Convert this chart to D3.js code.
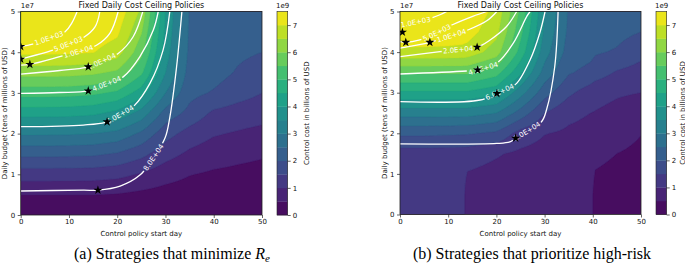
<!DOCTYPE html>
<html><head><meta charset="utf-8">
<script src="https://cdn.jsdelivr.net/npm/d3@7"></script>
<style>
body{margin:0;background:#fff;}
svg{display:block;}
</style></head><body>
<svg id="c" width="685" height="266" font-family="DejaVu Sans, sans-serif"></svg>
<script>
// ---------------- data ----------------
const budgets = [0,0.5,1,1.5,2,2.5,3,3.5,4,4.5,5];           // tens of millions of USD
const startDaysA = [0,5,10,15,20,25,30,35,40,45,50];
// control cost (billions of USD); one row per budget, one column per start day
const costA = [
 [0,0,0,0,0,0,0,0,0,0,0],
 [0.51,0.51,0.51,0.51,0.47,0.38,0.30,0.25,0.22,0.19,0.17],
 [1.25,1.25,1.24,1.22,1.15,0.95,0.70,0.52,0.43,0.39,0.35],
 [2.12,2.12,2.11,2.08,1.95,1.65,1.20,0.90,0.72,0.62,0.55],
 [3.06,3.06,3.05,3.00,2.85,2.40,1.70,1.30,1.05,0.95,0.85],
 [4.20,4.20,4.18,4.10,3.85,3.30,2.30,1.85,1.40,1.28,1.20],
 [5.20,5.20,5.18,5.10,4.90,4.25,3.00,2.15,1.95,1.70,1.50],
 [6.20,6.20,6.18,6.10,5.90,5.10,3.50,2.30,2.20,1.95,1.75],
 [7.10,7.10,7.08,7.02,6.75,5.65,3.75,2.38,2.30,2.10,2.00],
 [7.35,7.35,7.33,7.28,7.10,6.05,3.90,2.42,2.35,2.25,2.15],
 [7.50,7.50,7.48,7.45,7.35,6.40,4.00,2.45,2.40,2.35,2.30]
];
const startDaysB = [0,5,10,13,14,20,25,30,35,39.5,40.5,45,50];
const costB = [
 [1.20,1.20,1.20,1.20,0.70,0.70,0.70,0.70,0.70,0.70,0.30,0.30,0.30],
 [1.20,1.20,1.20,1.20,0.70,0.70,0.70,0.70,0.70,0.70,0.30,0.30,0.30],
 [1.22,1.22,1.22,1.22,0.97,0.85,0.78,0.74,0.73,0.72,0.47,0.38,0.35],
 [1.26,1.26,1.25,1.25,1.22,1.05,0.90,0.80,0.78,0.75,0.62,0.50,0.42],
 [2.10,2.10,2.08,2.05,2.05,1.90,1.30,1.02,0.92,0.85,0.80,0.65,0.51],
 [3.20,3.20,3.20,3.20,3.20,3.00,2.30,1.50,1.12,1.00,0.98,0.88,0.75],
 [4.40,4.40,4.40,4.40,4.40,4.15,3.20,2.20,1.60,1.25,1.15,1.05,1.00],
 [5.60,5.60,5.60,5.60,5.60,5.20,4.10,2.80,2.05,1.85,1.75,1.45,1.30],
 [6.90,6.90,6.88,6.85,6.80,6.25,4.80,3.20,2.30,2.15,2.05,1.95,1.65],
 [7.30,7.30,7.28,7.25,7.22,6.65,5.15,3.40,2.40,2.32,2.30,2.15,2.00],
 [7.50,7.50,7.48,7.45,7.40,6.85,5.40,3.50,2.45,2.42,2.40,2.30,2.20]
];
const costLevels = [0,0.5,1,1.5,2,2.5,3,3.5,4,4.5,5,5.5,6,6.5,7,7.5];
const colorbarTicks = [0,1,2,3,4,5,6,7];
const xTicks = [0,10,20,30,40,50];
const yTicks = [0,1,2,3,4,5];
const deathLevels = ["1.0E+03","5.0E+03","1.0E+04","2.0E+04","4.0E+04","6.0E+04","8.0E+04"];
// death contour lines: [start day, budget] points
const deathLinesA = [
 [[0,4.14],[2.5,4.2],[5.5,4.33],[9.2,4.5],[10.6,4.72],[11.7,5.0]],
 [[0,3.83],[6.7,4.05],[9.8,4.2],[12.9,4.35],[15.4,4.62],[16.4,5.0]],
 [[0,3.68],[1.9,3.7],[8.1,3.89],[12,4.02],[15.7,4.17],[18.5,4.47],[20.2,5.0]],
 [[0,3.46],[8.1,3.55],[14,3.64],[17.2,3.8],[20.2,3.97],[23.3,4.38],[25.3,5.0]],
 [[0,2.99],[8,3.01],[14,3.05],[17.7,3.22],[21.3,3.4],[24.7,3.89],[27.5,4.55],[28.5,5.0]],
 [[0,2.17],[13,2.21],[17.9,2.29],[20.6,2.47],[23.3,2.66],[26.8,3.24],[29.5,4.05],[30.9,5.0]],
 [[0,0.59],[13,0.61],[16,0.61],[20.6,0.71],[24.7,0.98],[27.4,1.4],[29.9,1.89],[30.9,2.4],[32.3,3.64],[33.4,5.0]]
];
const deathLabelAtA = [[5.9,4.33],[9.9,4.18],[11.9,4.04],[16.8,3.76],[17.9,3.2],[20.6,2.47],[27.5,1.42]];
const deathLinesB = [
 [[0,4.67],[5.2,4.79],[8.3,4.92],[9.7,5.0]],
 [[0,4.26],[1.2,4.24],[4.1,4.3],[7.5,4.47],[11,4.68],[15.1,4.88],[18,5.0]],
 [[0,4.1],[6.2,4.24],[10,4.38],[14.2,4.55],[18,4.77],[20.1,5.0]],
 [[0,3.89],[8.3,4.01],[12,4.06],[16,4.12],[18.7,4.3],[22.1,4.63],[24.2,5.0]],
 [[0,3.46],[14.5,3.54],[16.1,3.56],[18.1,3.63],[20.1,3.73],[23.5,4.22],[26.3,4.88],[27,5.0]],
 [[0,2.78],[16.6,2.82],[20.1,2.99],[22.2,3.1],[24.2,3.23],[27,3.81],[29,4.47],[30.1,5.0]],
 [[0,1.74],[20.1,1.75],[22.8,1.79],[24,1.88],[26.7,2.08],[29.4,2.29],[30.4,2.58],[32.1,3.64],[32.8,5.0]]
];
const deathLabelAtB = [[3.3,4.73],[7.6,4.48],[10.7,4.39],[12.1,4.06],[17.2,3.6],[20.7,3.02],[26.3,2.06]];
const starsA = [[0,4.14],[0,3.83],[1.9,3.70],[14,3.64],[14,3.05],[17.9,2.29],[16,0.61]];
const starsB = [[0.5,4.49],[1.2,4.24],[6.2,4.24],[16,4.12],[16.1,3.56],[20.1,2.98],[24,1.88]];

// ---------------- layout ----------------
const panels = [
 {id:"a", x0:20.7, y0:11.5, w:241.3, h:203.5, cbx:277, cbLab:308.5, days:startDaysA, cost:costA,
  lines:deathLinesA, labels:deathLabelAtA, stars:starsA, capX:172},
 {id:"b", x0:400, y0:11.5, w:241, h:203, cbx:656, cbLab:684.5, days:startDaysB, cost:costB,
  lines:deathLinesB, labels:deathLabelAtB, stars:starsB, capX:532}
];
const svg = d3.select("#c");
const cbW = 10.7;
const bandColor = k => d3.interpolateViridis(((costLevels[k]+costLevels[k+1])/2)/costLevels[costLevels.length-1]);

function bilinear(xs, ys, z, xv, yv){
  let i = Math.min(Math.max(d3.bisectRight(xs, xv)-1,0), xs.length-2);
  let j = Math.min(Math.max(d3.bisectRight(ys, yv)-1,0), ys.length-2);
  const tx = Math.min(Math.max((xv-xs[i])/(xs[i+1]-xs[i]),0),1);
  const ty = Math.min(Math.max((yv-ys[j])/(ys[j+1]-ys[j]),0),1);
  const a = z[j][i]*(1-tx)+z[j][i+1]*tx;
  const b = z[j+1][i]*(1-tx)+z[j+1][i+1]*tx;
  return a*(1-ty)+b*ty;
}

panels.forEach(p => {
  const x = d3.scaleLinear().domain([0,50]).range([p.x0, p.x0+p.w]);
  const y = d3.scaleLinear().domain([0,5]).range([p.y0+p.h, p.y0]);
  const g = svg.append("g");
  const clipId = "clip"+p.id;
  svg.append("clipPath").attr("id", clipId).append("rect")
    .attr("x", p.x0).attr("y", p.y0).attr("width", p.w).attr("height", p.h);
  const plot = g.append("g").attr("clip-path", `url(#${clipId})`);

  // filled contours
  const nx = Math.round(p.w*2), ny = Math.round(p.h*2);
  const vals = new Float64Array(nx*ny);
  for (let j=0;j<ny;j++){
    const B = y.invert(p.y0 + (j+0.5)*p.h/ny);
    for (let i=0;i<nx;i++){
      const d = x.invert(p.x0 + (i+0.5)*p.w/nx);
      vals[j*nx+i] = bilinear(p.days, budgets, p.cost, d, B);
    }
  }
  const thr = costLevels.slice(1,-1);
  const cs = d3.contours().size([nx,ny]).thresholds(thr)(vals);
  const proj = d3.geoPath(d3.geoTransform({point(px,py){
    this.stream.point(p.x0 + px*p.w/nx, p.y0 + py*p.h/ny);
  }}));
  plot.append("rect").attr("x",p.x0).attr("y",p.y0).attr("width",p.w).attr("height",p.h)
    .attr("fill", bandColor(0));
  cs.forEach((c,k) => {
    plot.append("path").attr("d", proj(c)).attr("fill", bandColor(k+1))
      .attr("stroke", bandColor(k+1)).attr("stroke-width",0.3);
  });

  // death contour lines with inline labels
  const line = d3.line().x(d=>x(d[0])).y(d=>y(d[1])).curve(d3.curveCatmullRom.alpha(0.5));
  p.lines.forEach((pts, k) => {
    const path = plot.append("path").attr("d", line(pts)).attr("fill","none")
      .attr("stroke","#fff").attr("stroke-width",1.3);
    const node = path.node();
    const total = node.getTotalLength();
    const tx = x(p.labels[k][0]), ty = y(p.labels[k][1]);
    let best = 0, bd = Infinity;
    for (let s=0;s<=total;s+=0.5){
      const q = node.getPointAtLength(s);
      const dd = (q.x-tx)**2+(q.y-ty)**2;
      if (dd<bd){bd=dd;best=s;}
    }
    const q0 = node.getPointAtLength(Math.max(best-6,0));
    const q1 = node.getPointAtLength(Math.min(best+6,total));
    let ang = Math.atan2(q1.y-q0.y, q1.x-q0.x)*180/Math.PI;
    if (ang>90) ang-=180; if (ang<-90) ang+=180;
    const c = node.getPointAtLength(best);
    const t = plot.append("text").attr("transform",`translate(${c.x},${c.y}) rotate(${ang})`)
      .attr("text-anchor","middle").attr("dy","0.35em").attr("font-size",7).attr("fill","#fff")
      .text(deathLevels[k]);
    const tw = t.node().getComputedTextLength()+3;
    const a0 = Math.max(best-tw/2,0);
    path.attr("stroke-dasharray", `${a0} ${tw} ${total}`);
  });

  // stars
  plot.selectAll("path.star").data(p.stars).join("path").attr("class","star")
    .attr("d", d3.symbol(d3.symbolStar).size(26)())
    .attr("transform", d=>`translate(${x(d[0])},${y(d[1])})`)
    .attr("fill","#000");

  // frame
  g.append("rect").attr("x",p.x0).attr("y",p.y0).attr("width",p.w).attr("height",p.h)
    .attr("fill","none").attr("stroke","#222").attr("stroke-width",0.8);

  // axes
  const ax = g.append("g").attr("transform",`translate(0,${p.y0+p.h})`)
    .call(d3.axisBottom(x).tickValues(xTicks).tickFormat(d3.format("d")).tickSize(3).tickSizeOuter(0).tickPadding(1.5));
  const ay = g.append("g").attr("transform",`translate(${p.x0},0)`)
    .call(d3.axisLeft(y).tickValues(yTicks).tickFormat(d3.format("d")).tickSize(3).tickSizeOuter(0).tickPadding(2.5));
  [ax,ay].forEach(a=>{
    a.select(".domain").remove();
    a.selectAll("text").attr("font-size",7).attr("fill","#111").attr("font-family","DejaVu Sans");
    a.selectAll("line").attr("stroke","#222").attr("stroke-width",0.7);
  });
  g.append("text").attr("x",p.x0).attr("y",p.y0-4).attr("font-size",7).attr("fill","#111").text("1e7");
  g.append("text").attr("x",p.x0+p.w/2).attr("y",p.y0-4).attr("text-anchor","middle")
    .attr("font-size",8).attr("fill","#111").text("Fixed Daily Cost Ceiling Policies");
  g.append("text").attr("x",p.x0+p.w/2).attr("y",236).attr("text-anchor","middle")
    .attr("font-size",7).attr("fill","#111").text("Control policy start day");
  g.append("text").attr("transform",`translate(${p.x0-13.5},${p.y0+p.h/2}) rotate(-90)`)
    .attr("text-anchor","middle").attr("font-size",7).attr("fill","#111")
    .text("Daily budget (tens of millions of USD)");

  // colorbar
  const cy = d3.scaleLinear().domain([0,7.5]).range([p.y0+p.h, p.y0]);
  const cb = g.append("g");
  d3.range(costLevels.length-1).forEach(k=>{
    cb.append("rect").attr("x",p.cbx).attr("width",cbW)
      .attr("y",cy(costLevels[k+1])).attr("height",cy(costLevels[k])-cy(costLevels[k+1])+0.3)
      .attr("fill",bandColor(k));
  });
  cb.append("rect").attr("x",p.cbx).attr("y",p.y0).attr("width",cbW).attr("height",p.h)
    .attr("fill","none").attr("stroke","#222").attr("stroke-width",0.6);
  const ac = cb.append("g").attr("transform",`translate(${p.cbx+cbW},0)`)
    .call(d3.axisRight(cy).tickValues(colorbarTicks).tickFormat(d3.format("d")).tickSize(3).tickSizeOuter(0).tickPadding(2));
  ac.select(".domain").remove();
  ac.selectAll("text").attr("font-size",7).attr("fill","#111").attr("font-family","DejaVu Sans");
  ac.selectAll("line").attr("stroke","#222").attr("stroke-width",0.7);
  cb.append("text").attr("x",p.cbx-1).attr("y",p.y0-4).attr("font-size",7).attr("fill","#111").text("1e9");
  cb.append("text").attr("transform",`translate(${p.cbLab},${p.y0+p.h/2}) rotate(-90)`)
    .attr("text-anchor","middle").attr("font-size",7).attr("fill","#111")
    .text("Control cost in billions of USD");
});

// captions
const cap1 = svg.append("text").attr("x",panels[0].capX).attr("y",259).attr("text-anchor","middle")
  .style("font-family","'Liberation Serif', serif").attr("font-size",16).attr("fill","#000");
cap1.append("tspan").text("(a) Strategies that minimize ");
cap1.append("tspan").attr("font-style","italic").text("R");
cap1.append("tspan").attr("font-style","italic").attr("font-size",11).attr("dy",2.5).text("e");
svg.append("text").attr("x",panels[1].capX).attr("y",259).attr("text-anchor","middle")
  .style("font-family","'Liberation Serif', serif").attr("font-size",16).attr("fill","#000")
  .text("(b) Strategies that prioritize high-risk");
</script>
</body></html>
